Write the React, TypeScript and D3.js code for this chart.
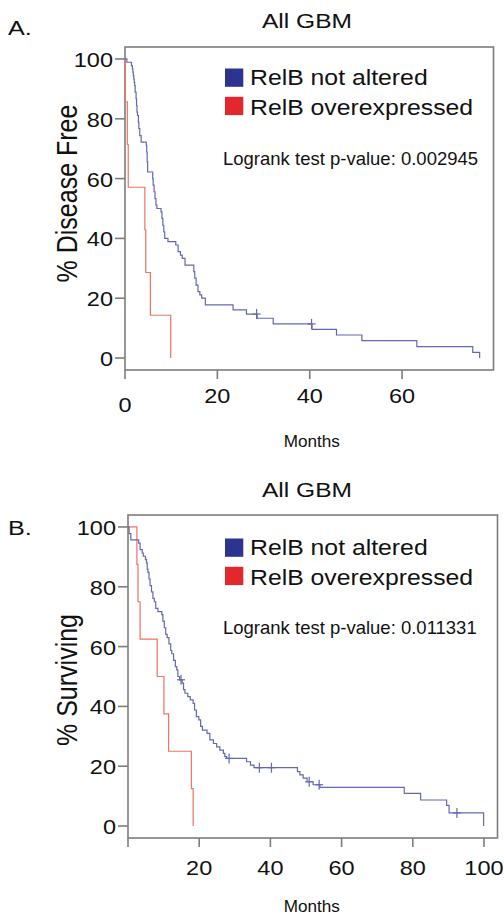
import React from "react";
import * as d3 from "d3";

// ---- data ----

// A. disease free, RelB not altered (step times in months, % after each step)
const dfsNotAlteredMonths = [
  0, 0.4, 1.4, 1.6, 1.7, 1.8, 1.9, 2.0, 2.1, 2.2,
  2.4, 2.5, 2.6, 2.7, 2.9, 3.0, 3.2, 3.5, 4.6, 4.7,
  4.8, 4.9, 6.0, 6.1, 6.3, 6.5, 6.7, 6.9, 7.8, 8.0,
  8.2, 8.4, 8.6, 9.3, 11.0, 11.5, 12.0, 12.4, 13.0, 14.9,
  15.1, 15.4, 15.8, 16.2, 16.6, 17.4, 23.4, 26.3, 28.6, 32.1,
  40.5, 45.8, 51.3, 63.2, 75.3, 76.8,
];
const dfsNotAlteredPct = [
  100, 98.9, 97.8, 96.7, 95.6, 94.4, 93.3, 92.2, 91.1, 88.9,
  86.7, 84.4, 82.2, 81.1, 78.9, 76.7, 74.4, 72.2, 71.1, 68.9,
  65.6, 62.2, 60.0, 57.8, 55.6, 53.3, 51.1, 50.0, 48.9, 46.7,
  44.4, 42.2, 40.0, 38.9, 37.8, 35.6, 34.4, 33.3, 31.1, 28.9,
  26.7, 24.4, 22.2, 21.1, 20.0, 17.8, 16.1, 14.7, 13.3, 11.4,
  9.6, 7.7, 5.8, 3.8, 1.9, 0,
];
const dfsNotAlteredCensored = [28.5, 40.4];

// A. disease free, RelB overexpressed
const dfsOverMonths = [0, 0.05, 0.5, 0.7, 4.3, 4.5, 5.5, 9.9];
const dfsOverPct = [100, 85.7, 71.4, 57.1, 42.9, 28.6, 14.3, 0];
const dfsOverCensored: number[] = [];

// B. overall survival, RelB not altered
const osNotAlteredMonths = [
  0, 0.3, 0.8, 3.0, 3.4, 4.0, 4.3, 4.9, 5.2, 5.4,
  5.6, 5.9, 6.2, 6.6, 7.0, 7.4, 7.8, 8.4, 9.5, 9.8,
  10.2, 10.6, 11.0, 11.5, 12.0, 12.3, 12.8, 13.3, 13.7, 14.0,
  14.5, 15.2, 15.6, 16.0, 16.8, 17.5, 18.3, 18.7, 19.2, 19.9,
  20.4, 20.9, 22.2, 23.0, 24.0, 24.9, 25.8, 26.8, 27.2, 27.7,
  33.3, 34.4, 35.4, 47.6, 48.3, 49.2, 50.3, 52.0, 53.9, 77.6,
  82.2, 89.5, 90.2, 99.9,
];
const osNotAlteredPct = [
  100, 97.8, 95.7, 94.6, 92.4, 91.3, 90.2, 89.1, 88.0, 85.9,
  84.8, 82.6, 80.4, 78.3, 76.1, 75.0, 72.8, 71.7, 70.7, 68.5,
  66.3, 64.1, 63.0, 60.9, 58.7, 57.6, 55.4, 53.3, 52.2, 50.0,
  48.9, 47.8, 45.6, 44.4, 43.3, 42.2, 41.0, 38.8, 36.6, 35.5,
  33.3, 32.1, 31.0, 28.8, 27.6, 26.5, 25.4, 24.3, 23.2, 22.6,
  21.5, 20.4, 19.5, 18.2, 17.1, 16.0, 14.8, 13.8, 12.9, 10.9,
  8.7, 6.9, 4.4, 0,
];
const osNotAlteredCensored = [14.9, 28.4, 36.9, 40.3, 50.9, 53.7, 92.4];

// B. overall survival, RelB overexpressed
const osOverMonths = [0, 2.5, 2.8, 3.4, 8.2, 10.1, 11.4, 17.8, 18.3];
const osOverPct = [100, 87.5, 75, 62.5, 50, 37.5, 25, 12.5, 0];
const osOverCensored: number[] = [];

const yTicks = [0, 20, 40, 60, 80, 100];
const xTicksA = [0, 20, 40, 60];
const xTickLabelsA = ["0", "20", "40", "60"];
const xTicksB = [0, 20, 40, 60, 80, 100];
const xTickLabelsB = ["", "20", "40", "60", "80", "100"];

const legendLabels = ["RelB not altered", "RelB overexpressed"];
const pValues = ["Logrank test p-value: 0.002945", "Logrank test p-value: 0.011331"];

const BLUE = "#2b348f";
const RED = "#e2282c";
const BLUE_LINE = "#6468b4";
const RED_LINE = "#f07262";
const AXIS = "#7d7d7d";
const INK = "#111";
const FONT = "'Liberation Sans', Arial, Helvetica, sans-serif";

const panels = [
  {
    letter: "A.", title: "All GBM", yLabel: "% Disease Free", pValue: pValues[0],
    series: [
      { months: dfsNotAlteredMonths, pct: dfsNotAlteredPct, censored: dfsNotAlteredCensored, color: BLUE_LINE },
      { months: dfsOverMonths, pct: dfsOverPct, censored: dfsOverCensored, color: RED_LINE },
    ],
    xTicks: xTicksA, xTickLabels: xTickLabelsA, xMax: 79.8,
    box: { x0: 125, x1: 493.5, y0: 47, y1: 370 },
    titleY: 28.3, letterY: 35, yLabelY: 193.5, legendY: 68.5, pY: 165, xLabY: 403.3, monthsY: 446.5,
  },
  {
    letter: "B.", title: "All GBM", yLabel: "% Surviving", pValue: pValues[1],
    series: [
      { months: osNotAlteredMonths, pct: osNotAlteredPct, censored: osNotAlteredCensored, color: BLUE_LINE },
      { months: osOverMonths, pct: osOverPct, censored: osOverCensored, color: RED_LINE },
    ],
    xTicks: xTicksB, xTickLabels: xTickLabelsB, xMax: 103.8,
    box: { x0: 128, x1: 497.5, y0: 515, y1: 838 },
    titleY: 496.7, letterY: 535, yLabelY: 680, legendY: 538.5, pY: 633.5, xLabY: 875, monthsY: 911.5,
  },
];

const SText = ({ x, y, sx = 1, size, anchor = "start", children }: any) => (
  <text
    transform={`translate(${x},${y}) scale(${sx},1)`}
    fontSize={size}
    textAnchor={anchor}
    fill={INK}
    fontFamily={FONT}
  >
    {children}
  </text>
);

const Panel = ({ p }: any) => {
  const { box } = p;
  const x = d3.scaleLinear().domain([0, p.xMax]).range([box.x0, box.x1]);
  const y = d3.scaleLinear().domain([-4, 104]).range([box.y1, box.y0]);

  const seriesPath = (s: any) =>
    d3
      .line<[number, number]>()
      .x((d) => x(d[0]))
      .y((d) => y(d[1]))
      .curve(d3.curveStepAfter)(s.months.map((m: number, i: number) => [m, s.pct[i]]));

  // survival level in force at time t (for placing censor marks)
  const levelAt = (s: any, t: number) => {
    let v = 100;
    s.months.forEach((m: number, i: number) => {
      if (m <= t) v = s.pct[i];
    });
    return v;
  };

  return (
    <g>
      <SText x={8} y={p.letterY} size={21} sx={1.2}>{p.letter}</SText>
      <SText x={307} y={p.titleY} size={21} sx={1.17} anchor="middle">{p.title}</SText>

      <rect x={box.x0} y={box.y0} width={box.x1 - box.x0} height={box.y1 - box.y0}
        fill="none" stroke={AXIS} strokeWidth={1.6} />

      {/* y axis */}
      {yTicks.map((t) => (
        <g key={"y" + t}>
          <line x1={box.x0 - 10} x2={box.x0} y1={y(t)} y2={y(t)} stroke={AXIS} strokeWidth={1.6} />
          <SText x={box.x0 - 12} y={y(t) + 8} size={21} sx={1.12} anchor="end">{t}</SText>
        </g>
      ))}

      {/* x axis */}
      {p.xTicks.map((t: number, i: number) => (
        <g key={"x" + t}>
          <line x1={x(t)} x2={x(t)} y1={box.y1} y2={box.y1 + 9} stroke={AXIS} strokeWidth={1.6} />
          <SText x={x(t)} y={p.xLabY + (t === 0 ? 8.4 : 0)} size={21} sx={1.12} anchor="middle">
            {p.xTickLabels[i]}
          </SText>
        </g>
      ))}

      <text
        transform={`translate(77,${p.yLabelY}) scale(1.15,1) rotate(-90)`}
        fontSize={25}
        textAnchor="middle"
        fill={INK}
        fontFamily={FONT}
      >
        {p.yLabel}
      </text>
      <SText x={311.7} y={p.monthsY} size={16} sx={1.07} anchor="middle">Months</SText>

      {/* curves, overexpressed first so not-altered sits on top */}
      {[...p.series].reverse().map((s: any, k: number) => (
        <path key={"s" + k} d={seriesPath(s) || ""} fill="none" stroke={s.color} strokeWidth={1.2} />
      ))}
      {p.series.map((s: any, k: number) =>
        s.censored.map((c: number) => {
          const cx = x(c);
          const cy = y(levelAt(s, c));
          return (
            <g key={"c" + k + c} stroke={s.color} strokeWidth={1.2}>
              <line x1={cx} x2={cx} y1={cy - 5} y2={cy + 5} />
              <line x1={cx - 4} x2={cx + 4} y1={cy} y2={cy} />
            </g>
          );
        })
      )}

      {/* legend */}
      {legendLabels.map((l, i) => (
        <g key={l}>
          <rect x={225} y={p.legendY + i * 28.3} width={18.3} height={18.3} fill={i === 0 ? BLUE : RED} />
          <SText x={250} y={p.legendY + 16.5 + i * 30} size={22} sx={1.127}>{l}</SText>
        </g>
      ))}
      <SText x={223} y={p.pY} size={18.5} sx={1.0}>{p.pValue}</SText>
    </g>
  );
};

export default function App() {
  return (
    <svg
      width={504}
      height={914}
      style={{ position: "absolute", left: 0, top: 0, background: "#fff" }}
    >
      <rect width={504} height={914} fill="#fff" />
      {panels.map((p) => (
        <Panel key={p.letter} p={p} />
      ))}
    </svg>
  );
}
